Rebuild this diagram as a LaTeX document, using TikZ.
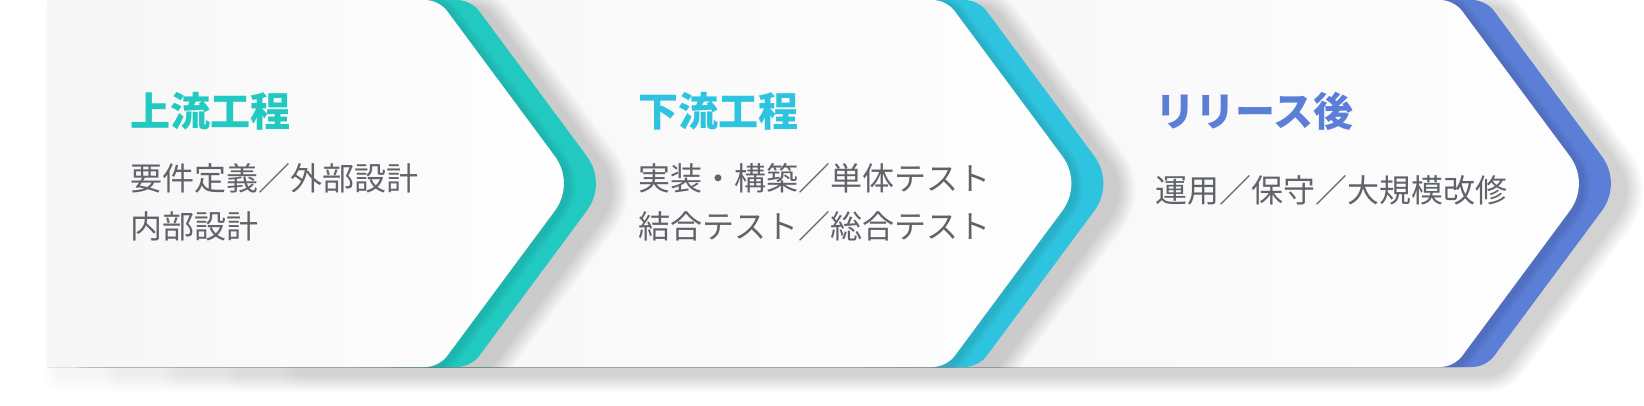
\documentclass[tikz,border=0pt]{standalone}
\usepackage{fontspec}
\newfontfamily\jp{Noto Sans CJK JP}
\definecolor{cteal}{HTML}{22C9C1}
\definecolor{ccyan}{HTML}{2EC4DF}
\definecolor{cblue}{HTML}{5B7ED7}
\definecolor{ctext}{HTML}{606369}
\definecolor{pleft}{HTML}{F6F6F6}
\definecolor{pright}{HTML}{FEFEFE}
\newcommand\chevshape[1]{(#1,0) -- (425,0) .. controls (433.4,0) and (442.3,4.5) .. (447.3,11.3)
  -- (554.8,156.2) .. controls (566.9,172.6) and (566.9,194.4) .. (554.8,210.8)
  -- (447.3,355.7) .. controls (442.3,362.5) and (433.4,367) .. (425,367) -- (#1,367) -- cycle}
\tikzset{
  titletext/.style={anchor=base west, inner sep=0pt, font=\jp\bfseries\fontsize{40}{40}\selectfont},
  subtext/.style={anchor=base west, inner sep=0pt, text=ctext, font=\jp\fontsize{32}{32}\selectfont},
}
\newcommand\softshadow[6]{% xshift, yshift, steps, step width, opacity, left x
  \foreach \i in {1,...,#3}{
    \begin{scope}[transparency group, opacity=#5, xshift=#1, yshift=#2]
      \path[fill=black, draw=black, line join=round, line width=\i*#4] \chevshape{#6};
    \end{scope}
  }}
% #1 xshift, #2 colour, #3 left x, #4 draw own colored shadow (1/0)
\newcommand\panel[4]{%
  \begin{scope}[xshift=#1]
    \begin{scope}[xshift=32]
      \ifnum#4=1
      \begin{scope}
        \clip (-2000,0) rectangle (2000,367);
        \softshadow{14}{-7}{9}{4}{0.018}{#3}
      \end{scope}
      \fi
      \fill[#2] \chevshape{#3};
    \end{scope}
    \begin{scope}
      \clip (#3,0) rectangle (2000,367);
      \softshadow{4}{-2}{5}{3}{0.02}{#3}
    \end{scope}
    \shade[left color=pleft, right color=pright] \chevshape{#3};
  \end{scope}}
\begin{document}
\begin{tikzpicture}[x=1pt,y=-1pt]
\useasboundingbox (0,0) rectangle (1644,406);
\fill[white] (0,0) rectangle (1644,406);
% overall shadow of the whole strip, fading in towards the left
\begin{scope}[xshift=1047]
  \foreach \lx in {-1000,-940,-880,-820,-760}{
    \softshadow{14}{-7}{9}{4}{0.0037}{\lx}
  }
\end{scope}
% panel 3
\panel{1015}{cblue}{-150}{0}
\node[titletext, text=cblue] (t3) at (1155,127) {リリース後};
\node[subtext] (s3a) at (1155,203) {運用／保守／大規模改修};
% panel 2
\panel{507.5}{ccyan}{-150}{1}
\node[titletext, text=ccyan] (t2) at (638,127) {下流工程};
\node[subtext] (s2a) at (638,191) {実装・構築／単体テスト};
\node[subtext] (s2b) at (638,239) {結合テスト／総合テスト};
% panel 1
\panel{0}{cteal}{47}{1}
\node[titletext, text=cteal] (t1) at (130,127) {上流工程};
\node[subtext] (s1a) at (130,191) {要件定義／外部設計};
\node[subtext] (s1b) at (130,239) {内部設計};
\end{tikzpicture}
\end{document}
